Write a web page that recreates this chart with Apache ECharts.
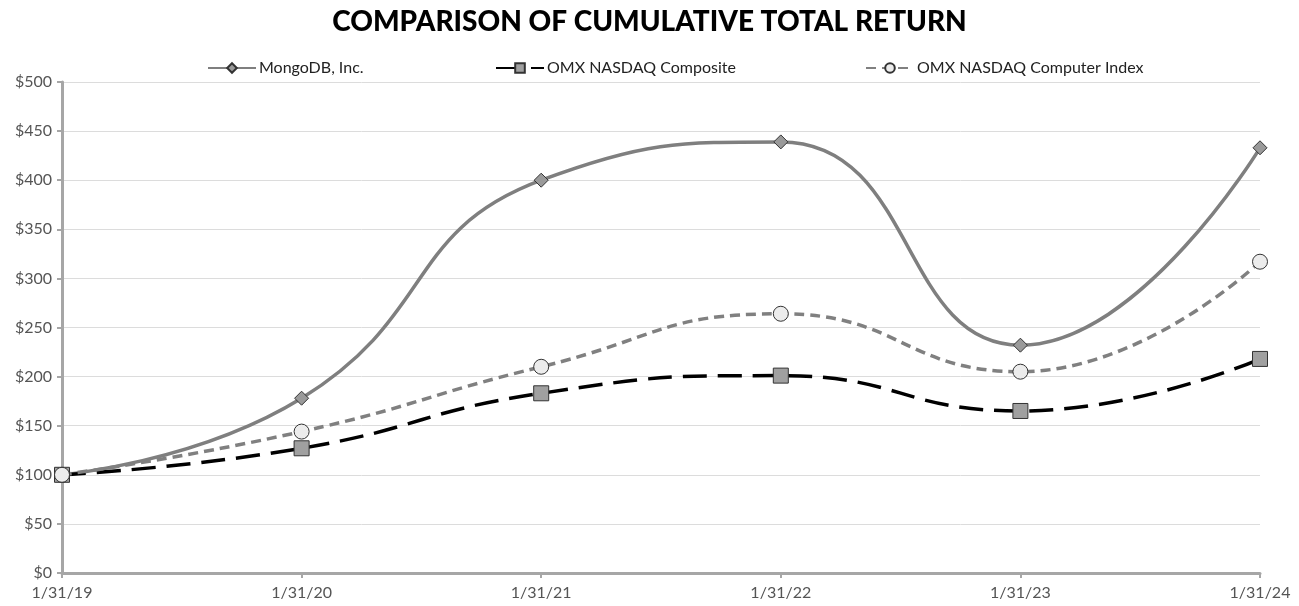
<!DOCTYPE html>
<html><head><meta charset="utf-8">
<script src="https://cdn.jsdelivr.net/npm/echarts@6/dist/echarts.min.js"></script>
<style>html,body{margin:0;padding:0;background:#fff}#c{width:1299px;height:606px}</style>
</head><body><div id="c"></div>
<script>
const categories = ['1/31/19','1/31/20','1/31/21','1/31/22','1/31/23','1/31/24'];
const mongodb = [100, 178, 400, 439, 232, 433];
const nasdaqComposite = [100, 127, 183, 201, 165, 218];
const nasdaqComputer = [100, 144, 210, 264, 205, 317];
const seriesNames = ['MongoDB, Inc.', 'OMX NASDAQ Composite', 'OMX NASDAQ Computer Index'];

const font = 'Lato, "Open Sans", sans-serif';
const chart = echarts.init(document.getElementById('c'), null, {renderer:'canvas'});
const legendBase = {top: 60, padding: 0, itemWidth: 48, itemHeight: 12, itemGap: 0,
  textStyle: {fontFamily: font, fontSize: 16, color: '#222', padding: [0, 0, 0, -2]}};
chart.setOption({
  animation: false,
  backgroundColor: '#fff',
  title: {text: 'COMPARISON OF CUMULATIVE TOTAL RETURN', left: 'center', top: 3,
    textStyle: {fontFamily: font, fontWeight: 900, fontSize: 28, color: '#000'}},
  legend: [
    Object.assign({}, legendBase, {left: 207, data: [seriesNames[0]]}),
    Object.assign({}, legendBase, {left: 495, data: [seriesNames[1]]}),
    Object.assign({}, legendBase, {left: 865, data: [seriesNames[2]]})
  ],
  grid: {left: 62, right: 39, top: 82, bottom: 33, containLabel: false},
  xAxis: {type: 'category', data: categories, boundaryGap: false,
    axisLine: {lineStyle: {color: '#a6a6a6', width: 3}},
    axisTick: {show: true, alignWithLabel: true, length: 5, lineStyle: {color: '#a6a6a6', width: 2}},
    axisLabel: {fontFamily: font, fontSize: 16, color: '#555', margin: 12},
    splitLine: {show: false}},
  yAxis: {type: 'value', min: 0, max: 500, interval: 50,
    axisLine: {show: true, lineStyle: {color: '#a6a6a6', width: 3}},
    axisTick: {show: true, length: 5, lineStyle: {color: '#a6a6a6', width: 2}},
    axisLabel: {fontFamily: font, fontSize: 16, color: '#555', margin: 10, formatter: v => '$' + v},
    splitLine: {lineStyle: {color: '#dcdcdc', width: 1}}},
  series: [
    {name: seriesNames[0], type: 'line', data: mongodb, smooth: 0.5,
      symbol: 'diamond', symbolSize: 14,
      lineStyle: {color: '#7f7f7f', width: 3.5},
      itemStyle: {color: '#9a9a9a', borderColor: '#333', borderWidth: 1}},
    {name: seriesNames[1], type: 'line', data: nasdaqComposite, smooth: 0.5,
      symbol: 'rect', symbolSize: 15,
      lineStyle: {color: '#000', width: 3.5, type: [24, 11]},
      itemStyle: {color: '#a0a0a0', borderColor: '#333', borderWidth: 1}},
    {name: seriesNames[2], type: 'line', data: nasdaqComputer, smooth: 0.5,
      symbol: 'circle', symbolSize: 15,
      lineStyle: {color: '#808080', width: 3.5, type: [10, 6]},
      itemStyle: {color: '#ececec', borderColor: '#333', borderWidth: 1}}
  ]
});
</script></body></html>
